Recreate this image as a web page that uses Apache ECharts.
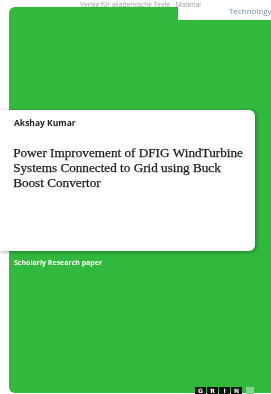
<!DOCTYPE html>
<html><head><meta charset="utf-8">
<script src="https://cdn.jsdelivr.net/npm/echarts@6/dist/echarts.min.js"></script>
<style>html,body{margin:0;padding:0;background:#fff}#c{width:271px;height:394px}</style>
</head><body><div id="c"></div>
<script>
const authorName = ['Akshay Kumar'];
const titleLines = ['Power Improvement of DFIG WindTurbine', 'Systems Connected to Grid using Buck', 'Boost Convertor'];
const seriesLabel = ['Scholarly Research paper'];
const tabLabels = ['Technology'];
const topFaintText = ['Verlag für akademische Texte · Material'];
const logoLetters = ['G', 'R', 'I', 'N'];

const green = '#30b93c';
const chart = echarts.init(document.getElementById('c'), null, {renderer: 'canvas'});
const g = [];
g.push({type:'text', left:80, top:2, style:{text:topFaintText[0], font:'6.6px "Open Sans"', fill:'#9a9a9a'}});
g.push({type:'rect', shape:{x:9, y:20, width:262, height:373, r:[0,0,0,6]}, style:{fill:green}});
g.push({type:'rect', shape:{x:9, y:7, width:169, height:20, r:[6,0,0,0]}, style:{fill:green}});
g.push({type:'text', left:229, top:8, style:{text:tabLabels[0], font:'8px "Open Sans"', fill:'#6f8ca5'}});
g.push({type:'rect', shape:{x:0, y:110, width:255, height:141, r:[0,6,6,0]}, style:{fill:'#ffffff', shadowBlur:4, shadowColor:'rgba(0,0,0,0.35)', shadowOffsetX:1, shadowOffsetY:1}});
g.push({type:'text', left:14, top:119, style:{text:authorName[0], font:'bold 8.5px "Open Sans"', fill:'#222'}});
titleLines.forEach((t, i) => {
  g.push({type:'text', left:13, top:147 + i*15, style:{text:t, font:'13.2px "Liberation Serif"', fill:'#1a1a1a', stroke:'#1a1a1a', lineWidth:0.25}});
});
g.push({type:'text', left:14, top:259, style:{text:seriesLabel[0], font:'bold 7px "Open Sans"', fill:'#ffffff'}});
logoLetters.forEach((l, i) => {
  g.push({type:'rect', shape:{x:195 + i*12, y:387, width:11, height:8}, style:{fill:'#111'}});
  g.push({type:'text', x:200.5 + i*12, y:391, style:{text:l, font:'bold 6px "DejaVu Sans"', fill:'#fff', align:'center', verticalAlign:'middle'}});
});
g.push({type:'rect', shape:{x:246, y:387, width:8, height:8}, style:{fill:'#7fd88a'}});
chart.setOption({animation:false, graphic:{elements:g}});
</script></body></html>
